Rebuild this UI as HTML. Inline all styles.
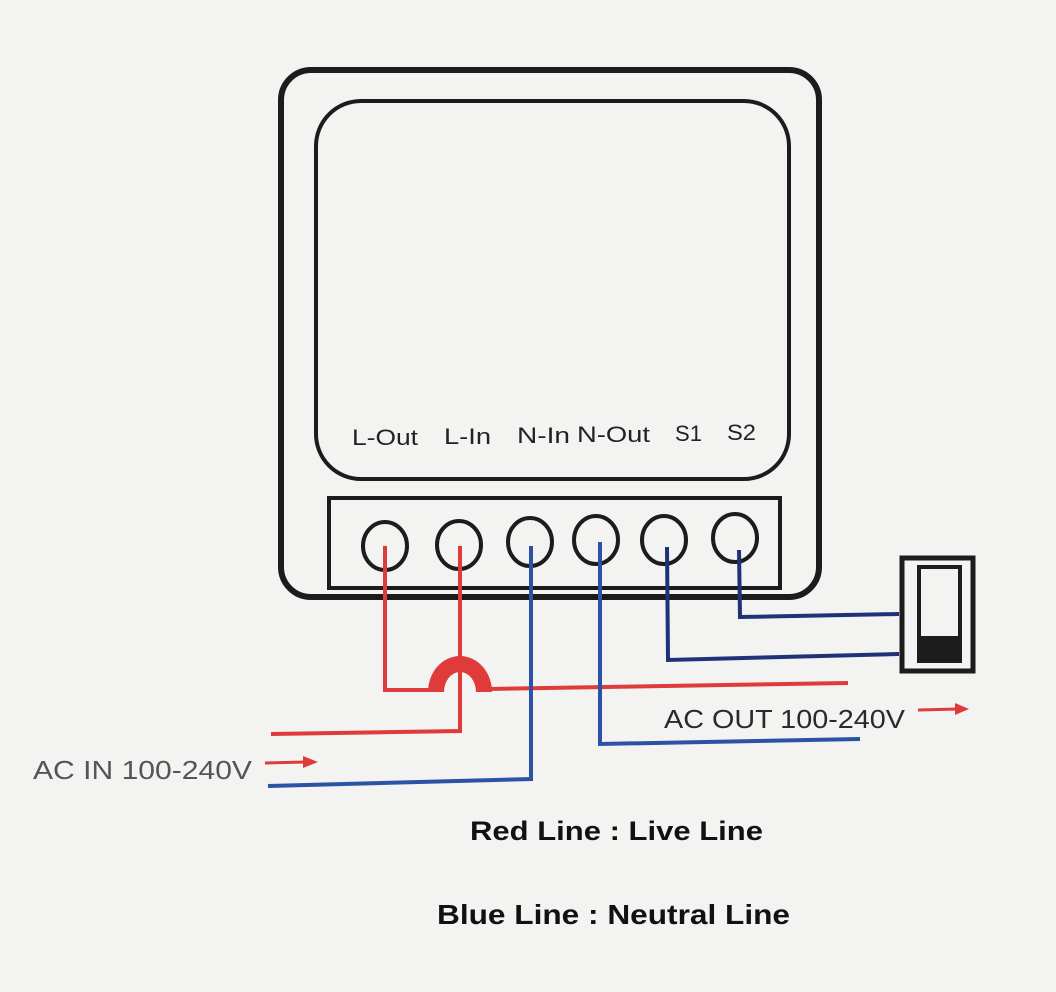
<!DOCTYPE html>
<html><head><style>
html,body{margin:0;padding:0;background:#f3f3f2;}
svg{display:block}
text{font-family:"Liberation Sans","DejaVu Sans",sans-serif;}
</style></head><body>
<svg width="1056" height="992" viewBox="0 0 1056 992" xmlns="http://www.w3.org/2000/svg">
<rect width="1056" height="992" fill="#f3f3f2"/>
<rect x="281" y="70" width="538" height="527" rx="30" fill="none" stroke="#1c1c1c" stroke-width="6"/>
<rect x="316" y="101" width="473" height="378" rx="45" fill="none" stroke="#1c1c1c" stroke-width="4"/>
<rect x="329" y="498" width="451" height="90" fill="#f3f3f2" stroke="#1c1c1c" stroke-width="4"/>
<g font-size="22" fill="#222">
<text x="352" y="445" textLength="66" lengthAdjust="spacingAndGlyphs">L-Out</text>
<text x="444" y="444" textLength="47" lengthAdjust="spacingAndGlyphs">L-In</text>
<text x="517" y="443" textLength="53" lengthAdjust="spacingAndGlyphs">N-In</text>
<text x="577" y="442" textLength="73" lengthAdjust="spacingAndGlyphs">N-Out</text>
<text x="675" y="441" textLength="27" lengthAdjust="spacingAndGlyphs">S1</text>
<text x="727" y="440" textLength="29" lengthAdjust="spacingAndGlyphs">S2</text>
</g>
<g fill="none" stroke="#1c1c1c" stroke-width="4">
<ellipse cx="385" cy="546" rx="22" ry="24"/>
<ellipse cx="459" cy="545" rx="22" ry="24"/>
<ellipse cx="530" cy="542" rx="22" ry="24"/>
<ellipse cx="596" cy="540" rx="22" ry="24"/>
<ellipse cx="664" cy="540" rx="22" ry="24"/>
<ellipse cx="735" cy="538" rx="22" ry="24"/>
</g>
<g fill="none" stroke-width="4" stroke-linejoin="miter">
<polyline points="385,546 385,690 432,690" stroke="#e03b3b"/>
<polyline points="488,689 848,683" stroke="#e03b3b"/>
<polyline points="460,546 460,731 271,734" stroke="#e03b3b"/>
<polyline points="531,546 531,779 268,786" stroke="#2b52a6"/>
<polyline points="600,542 600,744 860,739" stroke="#2b52a6"/>
<polyline points="667,547 668,660 899,654" stroke="#1f3278"/>
<polyline points="739,550 740,617 899,614" stroke="#1f3278"/>
</g>
<path d="M428,692 A32,36 0 0 1 492,692 L476,692 A16,20 0 0 0 444,692 Z" fill="#e03b3b"/>
<rect x="902" y="558" width="71" height="113" fill="none" stroke="#1c1c1c" stroke-width="5"/>
<rect x="919" y="567" width="41" height="94" fill="none" stroke="#1c1c1c" stroke-width="4"/>
<rect x="920" y="636" width="40" height="25" fill="#1c1c1c"/>
<text x="664" y="728" font-size="26" fill="#2a2a2a" textLength="241" lengthAdjust="spacingAndGlyphs">AC OUT 100-240V</text>
<line x1="918" y1="710" x2="958" y2="709" stroke="#e03b3b" stroke-width="3"/>
<polygon points="955,703 969,709 955,715" fill="#e03b3b"/>
<text x="33" y="779" font-size="26" fill="#555" textLength="219" lengthAdjust="spacingAndGlyphs">AC IN 100-240V</text>
<line x1="265" y1="763" x2="306" y2="762" stroke="#e03b3b" stroke-width="3"/>
<polygon points="303,756 318,762 303,768" fill="#e03b3b"/>
<text x="470" y="840" font-size="27" font-weight="bold" fill="#111" textLength="293" lengthAdjust="spacingAndGlyphs">Red Line : Live Line</text>
<text x="437" y="924" font-size="28" font-weight="bold" fill="#111" textLength="353" lengthAdjust="spacingAndGlyphs">Blue Line : Neutral Line</text>
</svg>
</body></html>
